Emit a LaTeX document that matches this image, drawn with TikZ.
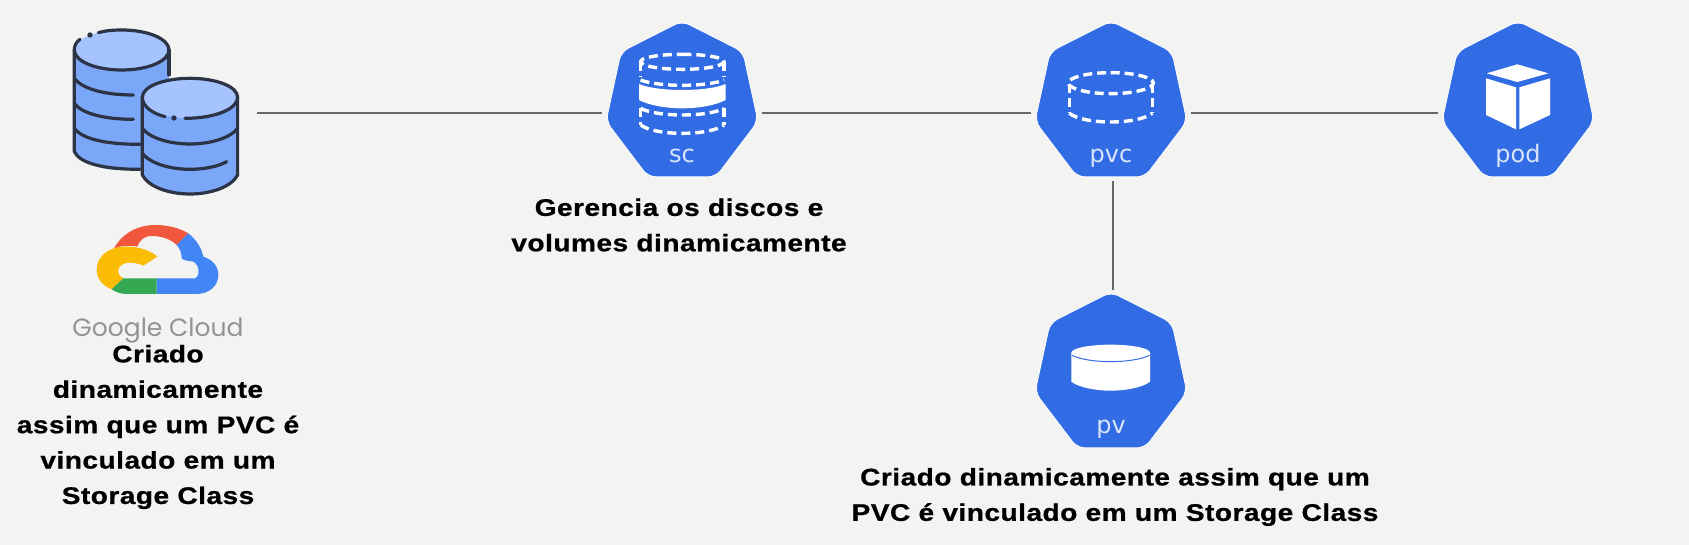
\documentclass[tikz,border=0pt]{standalone}
\usepackage{fontspec}
\setmainfont{Liberation Sans}
\newfontfamily\iconfont{DejaVu Sans}
\newfontfamily\gfont{Poppins}
\newfontfamily\notefont[FakeStretch=1.17,LetterSpace=2,FakeBold=0.8]{Liberation Sans Bold}
\usetikzlibrary{shapes.geometric}
\definecolor{bgc}{HTML}{F3F3F2}
\definecolor{kblue}{HTML}{326CE5}
\definecolor{klabel}{HTML}{D9E5FB}
\definecolor{linec}{HTML}{666666}
\definecolor{darkic}{HTML}{2B3345}
\definecolor{dbbody}{HTML}{7AA7F7}
\definecolor{dbtop}{HTML}{A5C3FF}
\definecolor{gred}{HTML}{F1573C}
\definecolor{gblue}{HTML}{4285F4}
\definecolor{gyellow}{HTML}{FBBC05}
\definecolor{ggreen}{HTML}{34A853}
\tikzset{
  hept/.style={regular polygon,regular polygon sides=7,minimum size=164pt,inner sep=0pt,fill=kblue,draw=white,line width=.8pt,rounded corners=8pt,transform shape,xscale=0.95},
  hlabel/.style={text=klabel,font=\iconfont\fontsize{24}{24}\selectfont,inner sep=0pt},
  conn/.style={draw=linec,line width=2.8pt},
  note/.style={align=center,inner sep=0pt,font=\notefont\fontsize{24}{35.4}\selectfont},
  dashicon/.style={draw=white,line width=3.4pt,dash pattern=on 9pt off 5pt},
  dbline/.style={draw=darkic,line width=3.2pt,line cap=round,line join=round},
  icon/.style={x=0.3333pt,y=-0.3333pt},
}
\begin{document}
\begin{tikzpicture}[x=1pt,y=-1pt]
\useasboundingbox (0,0) rectangle (1689,545);
\fill[bgc] (0,0) rectangle (1689,545);
% nodes
\node[hept] (sc) at (682,103) {};
\node[hept] (pvc) at (1111,103) {};
\node[hept] (pod) at (1518,103) {};
\node[hept] (pv) at (1111,374) {};
\node[minimum width=166pt,minimum height=167pt,inner sep=0pt] (db) at (156,113) {};
% connectors
\draw[conn,shorten <=18pt] (db.east) -- ([xshift=-8pt,yshift=-10pt]sc.west);
\draw[conn] ([xshift=8pt,yshift=-10pt]sc.east) -- ([xshift=-8pt,yshift=-10pt]pvc.west);
\draw[conn] ([xshift=8pt,yshift=-10pt]pvc.east) -- ([xshift=-8pt,yshift=-10pt]pod.west);
\draw[conn,shorten <=4pt,shorten >=2pt] ([xshift=2pt]pvc.south) -- ([xshift=2pt]pv.north);
% labels
\node[hlabel] (sclab) at (682,156) {sc};
\node[hlabel] (pvclab) at (1111,158) {pvc};
\node[hlabel] (podlab) at (1518,156) {pod};
\node[hlabel] (pvlab) at (1111,429) {pv};
% sc icon
\begin{scope}[icon,shift={(590pt,-10pt)}]
\draw[dashicon] (277,133) .. controls (350,133) and (402,143) .. (402,155) .. controls (402,167) and (350,178) .. (277,178) .. controls (204,178) and (152,167) .. (152,155) .. controls (152,143) and (204,133) .. (277,133);
\draw[dashicon] (152,155) -- (152,198);
\draw[dashicon] (402,155) -- (402,198);
\draw[dashicon] (152,210) .. controls (175,220) and (225,226) .. (277,226) .. controls (329,226) and (379,220) .. (402,210);
\fill[white] (147,222) .. controls (175,234) and (225,240) .. (277,240) .. controls (329,240) and (379,234) .. (407,222) -- (407,270) .. controls (379,285) and (329,295) .. (277,295) .. controls (225,295) and (175,285) .. (147,270) -- cycle;
\draw[dashicon] (152,295) .. controls (175,308) and (225,315) .. (277,315) .. controls (329,315) and (379,308) .. (402,295);
\draw[dashicon] (152,295) -- (152,345);
\draw[dashicon] (402,295) -- (402,345);
\draw[dashicon] (152,345) .. controls (175,362) and (225,370) .. (277,370) .. controls (329,370) and (379,362) .. (402,345);
\end{scope}
% pvc icon
\begin{scope}[icon,shift={(1020pt,-10pt)}]
\draw[dashicon] (272,188) .. controls (345,188) and (400,203) .. (400,219) .. controls (400,235) and (345,251) .. (272,251) .. controls (199,251) and (145,235) .. (145,219) .. controls (145,203) and (199,188) .. (272,188);
\draw[dashicon] (148,222) -- (148,310);
\draw[dashicon] (397,222) -- (397,310);
\draw[dashicon] (148,310) .. controls (170,327) and (220,336) .. (272,336) .. controls (324,336) and (375,327) .. (397,310);
\end{scope}
% pod icon
\begin{scope}[icon,shift={(1430pt,-10pt)}]
\fill[white] (262,163) -- (355,190) -- (262,216) -- (170,190) -- cycle;
\fill[white] (168,205) -- (258,232) -- (258,358) -- (168,315) -- cycle;
\fill[white] (268,232) -- (360,205) -- (360,315) -- (268,358) -- cycle;
\end{scope}
% pv icon
\begin{scope}[icon,shift={(1020pt,-280pt)}]
\fill[white] (154,218) -- (154,305) .. controls (175,322) and (225,332) .. (272,332) .. controls (319,332) and (370,322) .. (390,305) -- (390,218) -- cycle;
\fill[white] (272,194) .. controls (337,194) and (390,205) .. (390,218) .. controls (390,231) and (337,242) .. (272,242) .. controls (207,242) and (154,231) .. (154,218) .. controls (154,205) and (207,194) .. (272,194);
\draw[kblue,line width=1pt] (156,226) .. controls (180,238) and (225,245) .. (272,245) .. controls (319,245) and (364,238) .. (388,226);
\end{scope}
% database icon
\begin{scope}[icon,shift={(40pt,0pt)}]
\path[fill=dbbody] (103,150) -- (103,455) .. controls (125,495) and (190,510) .. (245,510) .. controls (300,510) and (365,495) .. (387,455) -- (387,150) -- cycle;
\path[fill=dbtop] (245,90) .. controls (325,90) and (387,117) .. (387,150) .. controls (387,183) and (325,210) .. (245,210) .. controls (165,210) and (103,183) .. (103,150) .. controls (103,117) and (165,90) .. (245,90);
\draw[dbline] (175,98) .. controls (195,92) and (220,90) .. (245,90) .. controls (325,90) and (387,117) .. (387,150) .. controls (387,183) and (325,210) .. (245,210) .. controls (165,210) and (103,183) .. (103,150) .. controls (103,137) and (108,127) .. (120,118);
\fill[darkic] (150,105) circle[radius=8];
\draw[dbline] (103,150) -- (103,455) .. controls (120,490) and (190,508) .. (300,508);
\draw[dbline] (387,150) -- (387,225);
\draw[dbline] (103,235) .. controls (125,265) and (190,285) .. (280,285);
\draw[dbline] (103,310) .. controls (125,340) and (190,358) .. (280,358);
\draw[dbline] (103,385) .. controls (125,415) and (190,433) .. (300,433);
% front cylinder
\path[fill=dbbody] (307,292) -- (307,525) .. controls (325,560) and (385,582) .. (450,582) .. controls (515,582) and (575,560) .. (593,525) -- (593,292) -- cycle;
\path[fill=dbtop] (450,235) .. controls (530,235) and (593,260) .. (593,292) .. controls (593,325) and (530,355) .. (450,355) .. controls (370,355) and (307,325) .. (307,292) .. controls (307,260) and (370,235) .. (450,235);
\draw[dbline] (375,350) .. controls (335,340) and (307,318) .. (307,292) .. controls (307,260) and (370,235) .. (450,235) .. controls (530,235) and (593,260) .. (593,292) .. controls (593,325) and (530,355) .. (435,355);
\fill[darkic] (402,354) circle[radius=8];
\draw[dbline] (307,292) -- (307,525) .. controls (325,560) and (385,582) .. (450,582) .. controls (515,582) and (575,560) .. (593,525) -- (593,292);
\draw[dbline] (307,385) .. controls (330,415) and (390,432) .. (450,432) .. controls (510,432) and (570,415) .. (593,385);
\draw[dbline] (307,460) .. controls (330,490) and (390,508) .. (450,508) .. controls (490,508) and (535,500) .. (560,485);
\end{scope}
% Google Cloud logo
\begin{scope}[icon,shift={(40pt,0pt)}]
\fill[gred] (222,745) .. controls (250,695) and (300,675) .. (345,675) .. controls (385,675) and (420,685) .. (445,700) -- (410,735) .. controls (390,715) and (360,708) .. (335,708) .. controls (312,708) and (298,722) .. (292,740) .. controls (265,735) and (240,738) .. (222,745) -- cycle;
\fill[gblue] (445,700) .. controls (470,720) and (485,745) .. (490,770) .. controls (520,780) and (535,800) .. (535,825) .. controls (535,860) and (505,882) .. (470,882) -- (350,882) -- (350,835) -- (465,835) .. controls (480,830) and (480,795) .. (460,785) .. controls (445,782) and (430,782) .. (425,775) .. controls (425,760) and (420,745) .. (410,735) -- cycle;
\fill[gyellow] (215,868) .. controls (185,855) and (170,835) .. (170,810) .. controls (170,770) and (205,742) .. (250,740) .. controls (290,738) and (330,750) .. (352,770) -- (310,797) .. controls (295,790) and (270,785) .. (255,790) .. controls (240,795) and (232,805) .. (235,818) .. controls (237,825) and (242,832) .. (250,835) -- cycle;
\fill[ggreen] (215,868) -- (250,835) -- (350,835) -- (350,882) -- (260,882) .. controls (240,882) and (225,875) .. (215,868) -- cycle;
\end{scope}
\node[text=gray!85,inner sep=0pt,font=\gfont\fontsize{25}{25}\selectfont] (gc) at (158,331) {Google Cloud};
% notes
\node[note] (n1) at (158,427) {Criado\\dinamicamente\\assim que um PVC é\\vinculado em um\\Storage Class};
\node[note] (n2) at (679,225) {Gerencia os discos e\\volumes dinamicamente};
\node[note] (n3) at (1115,497) {Criado dinamicamente assim que um\\PVC é vinculado em um Storage Class};
\end{tikzpicture}
\end{document}
